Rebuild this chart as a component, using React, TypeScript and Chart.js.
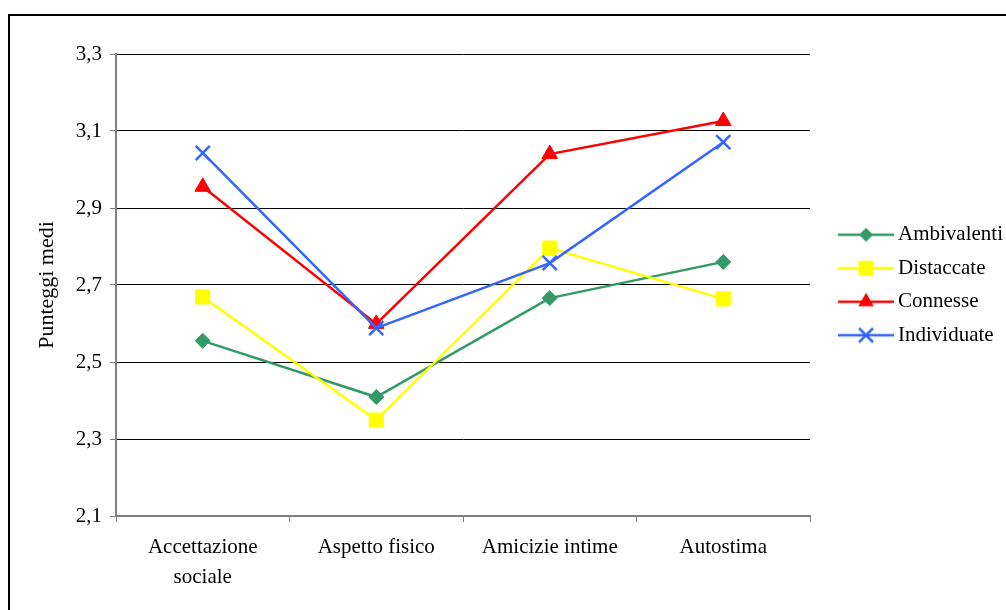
import React, { useEffect, useRef } from 'react';
import { Chart, registerables } from 'chart.js';

Chart.register(...registerables);

const categories = [['Accettazione', 'sociale'], 'Aspetto fisico', 'Amicizie intime', 'Autostima'];
const seriesNames = ['Ambivalenti', 'Distaccate', 'Connesse', 'Individuate'];
const ambivalenti = [2.555, 2.409, 2.666, 2.76];
const distaccate = [2.669, 2.349, 2.796, 2.664];
const connesse = [2.955, 2.599, 3.04, 3.126];
const individuate = [3.043, 2.588, 2.757, 3.071];
const yTickValues = [2.1, 2.3, 2.5, 2.7, 2.9, 3.1, 3.3];
const yTickLabels = ['2,1', '2,3', '2,5', '2,7', '2,9', '3,1', '3,3'];
const yTitle = 'Punteggi medi';

const seriesColors = ['#339966', '#FFFF00', '#FF0000', '#3366FF'];
const seriesMarkers = ['rectRot', 'rect', 'triangle', 'crossRot'];
const markerRadius = [7.5, 10, 9, 10];

const FONT = "'Liberation Serif', 'Times New Roman', serif";

// legend icon: transparent left part, then line segment with marker
function makeLegendIcon(color: string, style: string): HTMLCanvasElement {
  const c = document.createElement('canvas');
  c.width = 78;
  c.height = 22;
  const ctx = c.getContext('2d')!;
  const cx = 50;
  const cy = 11;
  ctx.strokeStyle = color;
  ctx.fillStyle = color;
  ctx.lineWidth = 2.5;
  ctx.beginPath();
  ctx.moveTo(22, cy);
  ctx.lineTo(78, cy);
  ctx.stroke();
  ctx.beginPath();
  if (style === 'rectRot') {
    const r = 7;
    ctx.moveTo(cx, cy - r);
    ctx.lineTo(cx + r, cy);
    ctx.lineTo(cx, cy + r);
    ctx.lineTo(cx - r, cy);
    ctx.closePath();
    ctx.fill();
  } else if (style === 'rect') {
    const s = 7.5;
    ctx.rect(cx - s, cy - s, 2 * s, 2 * s);
    ctx.fill();
  } else if (style === 'triangle') {
    const r = 9;
    ctx.moveTo(cx, cy - r);
    ctx.lineTo(cx + r * Math.sin((2 * Math.PI) / 3), cy - r * Math.cos((2 * Math.PI) / 3));
    ctx.lineTo(cx - r * Math.sin((2 * Math.PI) / 3), cy - r * Math.cos((2 * Math.PI) / 3));
    ctx.closePath();
    ctx.fill();
  } else {
    const d = 7;
    ctx.lineWidth = 2.5;
    ctx.moveTo(cx - d, cy - d);
    ctx.lineTo(cx + d, cy + d);
    ctx.moveTo(cx + d, cy - d);
    ctx.lineTo(cx - d, cy + d);
    ctx.stroke();
  }
  return c;
}

export default function App() {
  const canvasRef = useRef<HTMLCanvasElement | null>(null);

  useEffect(() => {
    if (!canvasRef.current) return;
    const values = [ambivalenti, distaccate, connesse, individuate];
    const icons = seriesNames.map((_, i) => makeLegendIcon(seriesColors[i], seriesMarkers[i]));
    const datasets = seriesNames.map((name, i) => ({
      label: name,
      data: values[i],
      borderColor: seriesColors[i],
      backgroundColor: seriesColors[i],
      borderWidth: 2.5,
      tension: 0,
      pointStyle: seriesMarkers[i],
      pointRadius: markerRadius[i],
      pointHoverRadius: markerRadius[i],
      pointBackgroundColor: seriesColors[i],
      pointBorderColor: seriesColors[i],
      pointBorderWidth: seriesMarkers[i] === 'crossRot' ? 2.5 : 1,
      order: seriesNames.length - i,
    }));

    const chart = new Chart(canvasRef.current, {
      type: 'line',
      data: { labels: categories, datasets },
      options: {
        responsive: false,
        animation: false,
        devicePixelRatio: 1,
        layout: { padding: { top: 46, left: 0, right: 5, bottom: 0 } },
        plugins: {
          tooltip: { enabled: false },
          legend: {
            position: 'right',
            fullSize: false,
            labels: {
              usePointStyle: true,
              pointStyleWidth: 65,
              padding: 12.5,
              color: '#000',
              font: { family: FONT, size: 21 },
              generateLabels: (ch: any) =>
                ch.data.datasets.map((ds: any, i: number) => ({
                  text: ds.label,
                  pointStyle: icons[i],
                  fillStyle: ds.backgroundColor,
                  strokeStyle: ds.borderColor,
                  lineWidth: 0,
                  hidden: false,
                  datasetIndex: i,
                  fontColor: '#000',
                })),
            },
          },
        },
        scales: {
          x: {
            type: 'category',
            offset: true,
            grid: {
              display: true,
              drawOnChartArea: false,
              drawTicks: true,
              tickLength: 6,
              tickColor: '#808080',
              offset: true,
            },
            border: { display: true, color: '#808080', width: 2 },
            ticks: {
              color: '#000',
              font: { family: FONT, size: 21, lineHeight: 1.4 },
              padding: 11,
              maxRotation: 0,
              autoSkip: false,
            },
            afterFit: (s: any) => {
              s.height = 94;
            },
          },
          y: {
            type: 'linear',
            position: 'left',
            min: 2.1,
            max: 3.3,
            afterBuildTicks: (s: any) => {
              s.ticks = yTickValues.map((v) => ({ value: v }));
            },
            ticks: {
              color: '#000',
              font: { family: FONT, size: 21 },
              padding: 8,
              callback: (v: any, i: number) => yTickLabels[i],
            },
            grid: { color: '#000', lineWidth: 1, tickLength: 6, tickColor: '#808080' },
            border: { display: true, color: '#808080', width: 2 },
            title: {
              display: true,
              text: yTitle,
              color: '#000',
              font: { family: FONT, size: 22 },
              padding: { top: 26, bottom: 0 },
            },
            afterFit: (s: any) => {
              s.width = 108;
            },
          },
        },
      },
    } as any);
    return () => chart.destroy();
  }, []);

  return (
    <div
      style={{
        position: 'fixed',
        left: 8,
        top: 8,
        width: 998,
        height: 602,
        overflow: 'hidden',
        background: '#fff',
      }}
    >
      <div
        style={{
          position: 'absolute',
          left: 0,
          top: 6,
          width: 1030,
          height: 650,
          border: '2px solid #000',
          boxSizing: 'border-box',
        }}
      />
      <canvas
        ref={canvasRef}
        width={1010}
        height={602}
        style={{ position: 'absolute', left: 0, top: 0, width: 1010, height: 602 }}
      />
    </div>
  );
}
